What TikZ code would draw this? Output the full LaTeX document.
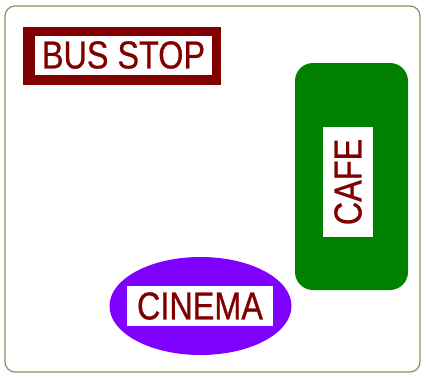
\documentclass[tikz,border=0pt]{standalone}
\usepackage{fontspec}
\setmainfont{Liberation Sans}
\newfontfamily\labelfont[FakeStretch=0.83,FakeBold=0.6]{Liberation Sans}
\usetikzlibrary{shapes.geometric}
\definecolor{framecol}{HTML}{9C8A5E}
\definecolor{darkred}{HTML}{800000}
\definecolor{cafegreen}{HTML}{008000}
\definecolor{cinemapurple}{HTML}{8000FF}
\tikzset{
  labeltext/.style={fill=white, text=darkred, inner sep=0pt, font=\labelfont\fontsize{39}{39}\selectfont},
}
\begin{document}
\begin{tikzpicture}[x=1pt,y=-1pt]
\useasboundingbox (0,0) rectangle (423,375);
\fill[white] (0,0) rectangle (423,375);
% frame
\draw[framecol, line width=1.2pt, rounded corners=10pt] (5,6) rectangle (420,372);
% bus stop
\fill[darkred] (23,27) rectangle (221,85);
\node[labeltext, minimum width=177pt, minimum height=39pt] (bus) at (123.5,55) {BUS STOP};
% cafe
\fill[cafegreen, rounded corners=18pt] (295,63) rectangle (408,290);
\node[labeltext, minimum width=110pt, minimum height=50pt, rotate=90] (cafe) at (348,182) {CAFE};
% cinema
\node[ellipse, fill=cinemapurple, minimum width=182pt, minimum height=98pt, inner sep=0pt] (cin) at (200.5,306) {};
\node[labeltext, minimum width=146pt, minimum height=40pt] (cinema) at (200,306) {CINEMA};
\end{tikzpicture}
\end{document}
